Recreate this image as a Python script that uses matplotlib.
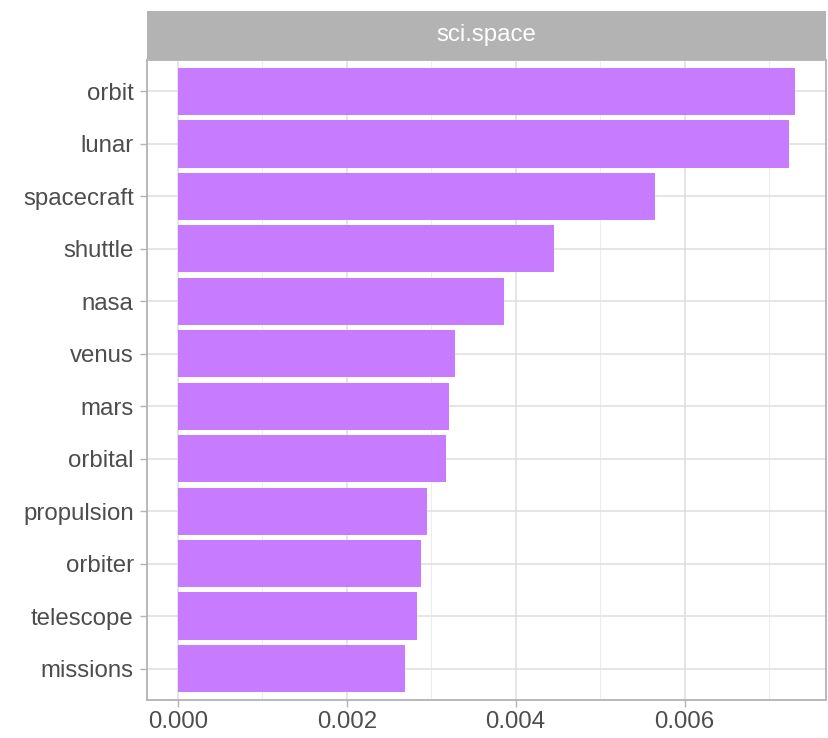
import matplotlib.pyplot as plt
import numpy as np

# tf-idf style terms for sci.space
terms = ['orbit', 'lunar', 'spacecraft', 'shuttle', 'nasa', 'venus',
         'mars', 'orbital', 'propulsion', 'orbiter', 'telescope', 'missions']
values = [0.00731, 0.00724, 0.00565, 0.00445, 0.00386, 0.00328,
          0.00321, 0.00318, 0.00295, 0.00288, 0.00283, 0.00269]
panel_title = 'sci.space'

plt.rcParams['font.family'] = ['Liberation Sans', 'DejaVu Sans']

fig = plt.figure(figsize=(8.29, 7.38), dpi=100)
ax = fig.add_axes([147/829, 1-700/738, 679/829, 640/738])

n = len(terms)
ypos = np.arange(n)[::-1]  # first term on top
ax.barh(ypos, values, height=0.9, color='#C77CFF', zorder=3)

vmax = max(values)
ax.set_xlim(-0.05*vmax, 1.05*vmax)
ax.set_ylim(-0.6, n - 1 + 0.6)

ax.set_yticks(ypos)
ax.set_yticklabels(terms)
major = [0.000, 0.002, 0.004, 0.006]
ax.set_xticks(major)
ax.set_xticklabels(['%.3f' % v for v in major])
ax.set_xticks([0.001, 0.003, 0.005, 0.007], minor=True)

ax.grid(True, which='major', color='#DEDEDE', linewidth=1.1, zorder=0)
ax.grid(True, which='minor', axis='x', color='#EDEDED', linewidth=0.8, zorder=0)
ax.tick_params(axis='both', which='major', length=5, color='#B3B3B3',
               labelcolor='#4D4D4D', labelsize=17.3, width=1)
ax.tick_params(axis='x', which='minor', length=0)
ax.tick_params(axis='x', pad=3)
ax.tick_params(axis='y', pad=4.5)
for s in ax.spines.values():
    s.set_color('#B3B3B3')
    s.set_linewidth(1.3)

# facet strip
strip = fig.add_axes([147/829, 1-60/738, 679/829, 49/738])
strip.set_facecolor('#B3B3B3')
strip.set_xticks([])
strip.set_yticks([])
for s in strip.spines.values():
    s.set_visible(False)
strip.text(0.5, 0.5, panel_title, color='white', fontsize=17.3,
           ha='center', va='center', transform=strip.transAxes)

fig.savefig('out.png', dpi=100)
